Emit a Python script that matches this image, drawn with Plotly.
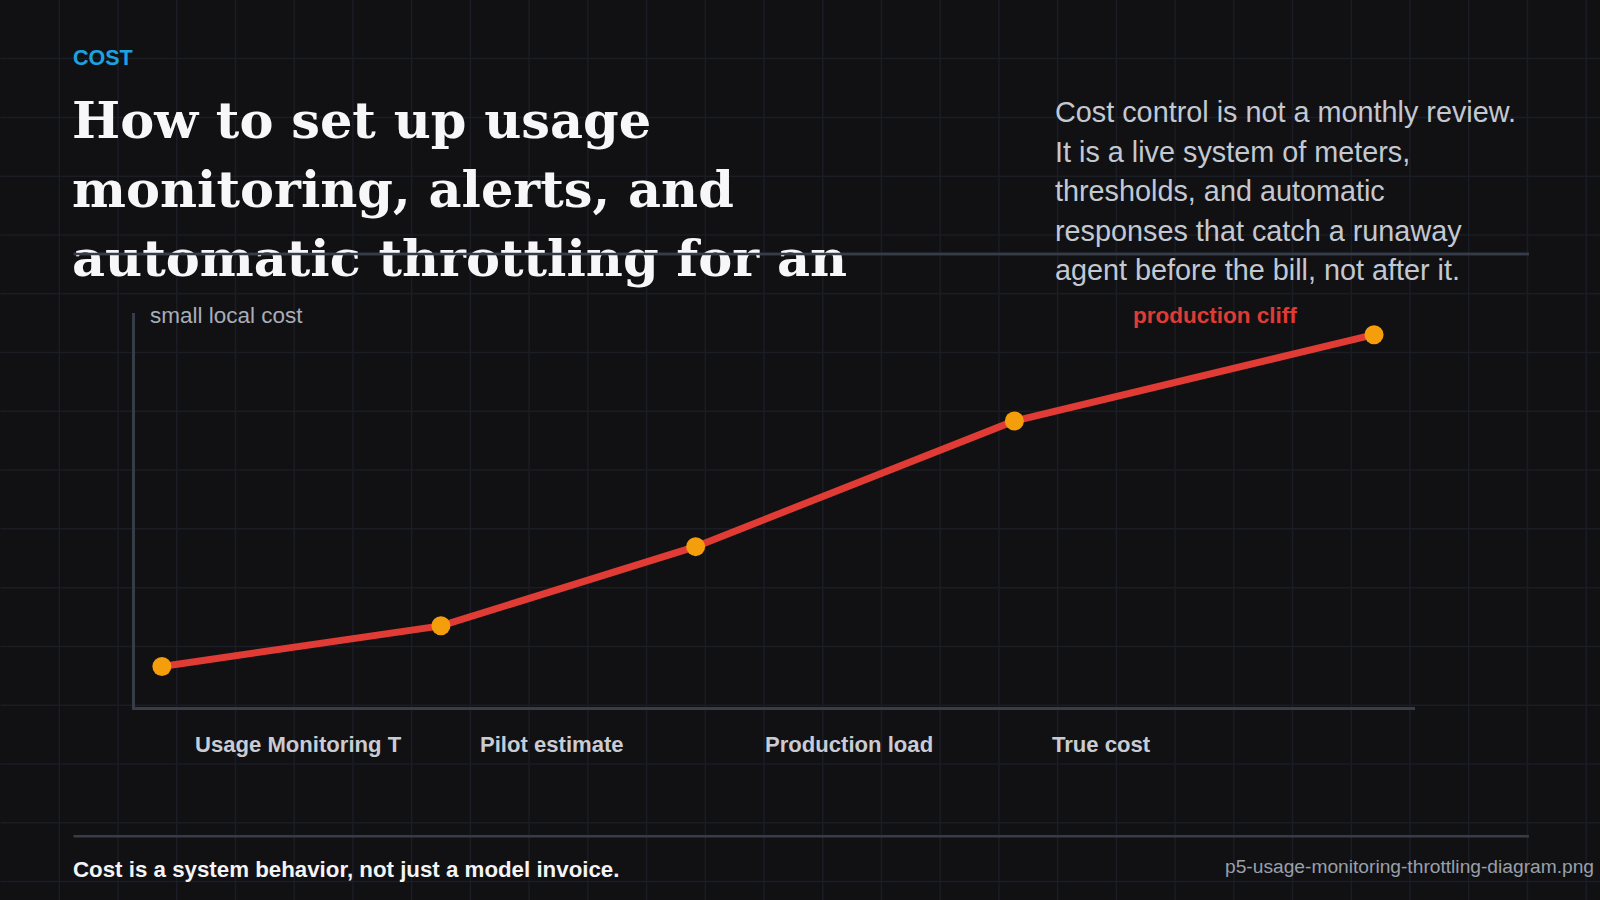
import plotly.graph_objects as go

# ---- data ----
stage_x = [2.1, 23.9, 43.8, 68.7, 96.8]
cost_y = [10.3, 20.6, 40.7, 72.6, 94.5]
stage_labels = ["Usage Monitoring T", "Pilot estimate", "Production load", "True cost"]
stage_label_x = [4.5, 26.8, 49.1, 71.5]

eyebrow = "COST"
title_lines = ["How to set up usage", "monitoring, alerts, and", "automatic throttling for an"]
dek_lines = [
    "Cost control is not a monthly review.",
    "It is a live system of meters,",
    "thresholds, and automatic",
    "responses that catch a runaway",
    "agent before the bill, not after it.",
]
low_note = "small local cost"
high_note = "production cliff"
footer_text = "Cost is a system behavior, not just a model invoice."
file_text = "p5-usage-monitoring-throttling-diagram.png"

# ---- page geometry ----
W, H = 1600, 900
L, R, T, B = 134.5, 1415, 313, 706.8


def px(x):
    return (x - L) / (R - L)


def py(y):
    return (B - y) / (B - T)


SANS = "Liberation Sans, Arial, sans-serif"
SERIF = "DejaVu Serif, Georgia, serif"
BG = "#111114"
RULE = "#363c48"

fig = go.Figure()
fig.add_trace(go.Scatter(
    x=stage_x, y=cost_y, mode="lines+markers",
    line=dict(color="#e03b34", width=7),
    marker=dict(color="#f59e0b", size=19),
    hoverinfo="skip", showlegend=False, cliponaxis=False,
))

shapes = []
g = 58.75
k = 1
while k * g < W:
    shapes.append(dict(type="line", xref="paper", yref="paper", x0=px(k * g), x1=px(k * g),
                       y0=py(0), y1=py(H), line=dict(color="#1b1d24", width=1.5), layer="below"))
    k += 1
k = 1
while k * g < H:
    shapes.append(dict(type="line", xref="paper", yref="paper", x0=px(0), x1=px(W),
                       y0=py(k * g), y1=py(k * g), line=dict(color="#1b1d24", width=1.5), layer="below"))
    k += 1
for yy in (254, 836):
    shapes.append(dict(type="line", xref="paper", yref="paper", x0=px(73), x1=px(1529),
                       y0=py(yy), y1=py(yy), line=dict(color=RULE, width=2.5), layer="below"))

ann = []


def note(text, x, y, size, color, family=SANS, xanchor="left", bold=False):
    t = f"<b>{text}</b>" if bold else text
    ann.append(dict(text=t, x=px(x), y=py(y), xref="paper", yref="paper", xanchor=xanchor,
                    yanchor="middle", showarrow=False,
                    font=dict(family=family, size=size, color=color)))


note(eyebrow, 70.5, 58, 21.5, "#1ba3e0", bold=True)
for i, line in enumerate(title_lines):
    note(line, 69, 120 + 69 * i, 51, "#f7f7f9", family=SERIF, bold=True)
for i, line in enumerate(dek_lines):
    note(line, 1053, 112.2 + 39.55 * i, 28.8, "#c3c8d1")
note(low_note, 148, 315, 22.5, "#a8adb7")
note(high_note, 1131, 315, 22.5, "#e03b34", bold=True)
note(footer_text, 70.5, 869, 22.3, "#f4f4f6", bold=True)
note(file_text, 1596, 866, 19.2, "#9aa0aa", xanchor="right")

# rule that runs across the last title line, drawn on top of the title text
ann.append(dict(text="", x=px(1529), y=py(254), xref="paper", yref="paper",
                showarrow=True, arrowhead=0, arrowwidth=2.5, arrowcolor=RULE,
                ax=73 - 1529, ay=0, axref="pixel", ayref="pixel",
                standoff=0, startstandoff=0))

for lab, lx in zip(stage_labels, stage_label_x):
    ann.append(dict(text=f"<b>{lab}</b>", x=lx, y=py(744), xref="x", yref="paper",
                    xanchor="left", yanchor="middle", showarrow=False,
                    font=dict(family=SANS, size=22.1, color="#c9ccd3")))

axis_style = dict(showgrid=False, zeroline=False, showticklabels=False, ticks="",
                  showline=True, linecolor=RULE, linewidth=2.5, fixedrange=True)
fig.update_layout(
    width=W, height=H,
    margin=dict(l=L, r=W - R, t=T, b=H - B),
    paper_bgcolor=BG, plot_bgcolor="rgba(0,0,0,0)",
    xaxis=dict(range=[0, 100], **axis_style),
    yaxis=dict(range=[0, 100], **axis_style),
    shapes=shapes, annotations=ann,
)

fig.write_html("out.html", config={"displayModeBar": False})
